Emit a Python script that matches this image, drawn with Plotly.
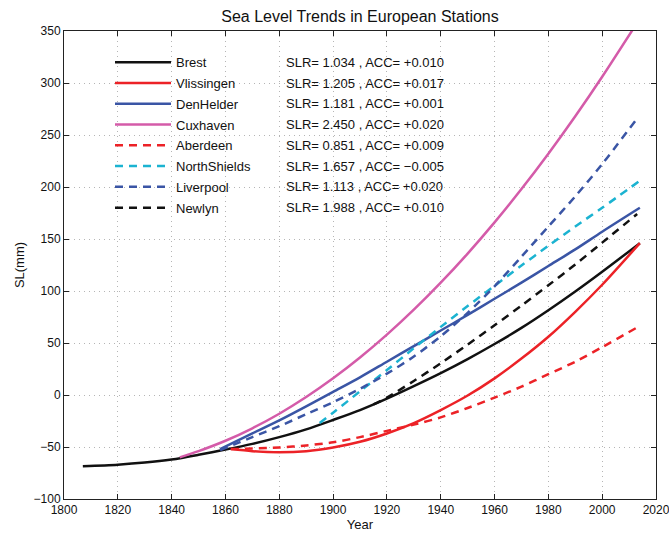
import plotly.graph_objects as go

# ---------------- data ----------------
stations = ["Brest", "Vlissingen", "DenHelder", "Cuxhaven",
            "Aberdeen", "NorthShields", "Liverpool", "Newlyn"]
slr_values = [1.034, 1.205, 1.181, 2.450, 0.851, 1.657, 1.113, 1.988]
acc_values = [0.010, 0.017, 0.001, 0.020, 0.009, -0.005, 0.020, 0.010]

brest_years = [1807, 1820, 1830, 1840, 1850, 1860, 1870, 1880, 1890, 1900, 1910,
               1920, 1930, 1940, 1950, 1960, 1970, 1980, 1990, 2000, 2014]
brest_sl = [-68.5, -67, -65, -62, -57.5, -52.5, -47, -40.5, -33, -24, -14.5,
            -3.5, 8.5, 21, 34.5, 49, 64.5, 81.5, 99.5, 118.5, 146]

vlissingen_years = [1862, 1870, 1880, 1890, 1900, 1910, 1920, 1930, 1940, 1950,
                    1960, 1970, 1980, 1990, 2000, 2014]
vlissingen_sl = [-52, -54, -55, -54, -50.5, -45, -37, -27, -14.5, -0.5,
                 16, 35, 56, 80, 106, 146]

denhelder_years = [1858, 1870, 1880, 1890, 1900, 1910, 1920, 1930, 1940, 1950,
                   1960, 1970, 1980, 1990, 2000, 2014]
denhelder_sl = [-52, -37, -24.5, -11, 3, 17, 32, 47, 62, 77,
                92.5, 108, 124, 140, 157, 180]

cuxhaven_years = [1843, 1850, 1860, 1870, 1880, 1890, 1900, 1910, 1920, 1930,
                  1940, 1950, 1960, 1970, 1980, 1990, 2000, 2014]
cuxhaven_sl = [-60, -54, -44, -32, -18, -2, 16, 36, 58, 82,
               108, 136, 166, 198, 232, 268, 306, 362]

aberdeen_years = [1862, 1870, 1880, 1890, 1900, 1910, 1920, 1930, 1940, 1950,
                  1960, 1970, 1980, 1990, 2000, 2013]
aberdeen_sl = [-52, -51.5, -50.5, -48.5, -45.5, -40.5, -34.5, -28.5, -21.5, -12.5,
               -2.5, 8, 20, 32, 46, 65]

northshields_years = [1895, 1900, 1910, 1920, 1930, 1940, 1950, 1960, 1970,
                      1980, 1990, 2000, 2014]
northshields_sl = [-27, -17, 3.5, 24, 45, 65.5, 85.5, 105, 124.5,
                   143.5, 162, 180, 206]

liverpool_years = [1858, 1870, 1880, 1890, 1900, 1910, 1920, 1930, 1940, 1950,
                   1960, 1970, 1980, 1990, 2000, 2013]
liverpool_sl = [-53, -40.5, -30, -18.5, -7, 6, 20.5, 37, 56.5, 79,
                104.5, 133, 162, 191, 222, 266]

newlyn_years = [1915, 1920, 1930, 1940, 1950, 1960, 1970, 1980, 1990, 2000, 2013]
newlyn_sl = [-9, -2.5, 13.5, 30.5, 48.5, 67, 86, 105.5, 125.5, 146.5, 174]

x_ticks = list(range(1800, 2021, 20))
y_ticks = list(range(-100, 351, 50))

# ---------------- styles ----------------
series = [
    (brest_years, brest_sl, "#111111", "solid"),
    (vlissingen_years, vlissingen_sl, "#ec2227", "solid"),
    (denhelder_years, denhelder_sl, "#3a55a5", "solid"),
    (cuxhaven_years, cuxhaven_sl, "#d45ba9", "solid"),
    (aberdeen_years, aberdeen_sl, "#ec2227", "8px,6px"),
    (northshields_years, northshields_sl, "#1bb3d1", "8px,6px"),
    (liverpool_years, liverpool_sl, "#3a55a5", "8px,6px"),
    (newlyn_years, newlyn_sl, "#111111", "8px,6px"),
]

FONT = "Liberation Sans, Arial, Helvetica, sans-serif"

fig = go.Figure()
for i, (name, (xs, ys, col, dash)) in enumerate(zip(stations, series)):
    fig.add_trace(go.Scatter(
        x=xs, y=ys, mode="lines", name=name, legendgroup=name,
        line=dict(color=col, width=2.5, dash=dash, shape="spline", smoothing=0.8),
    ))

# SLR / ACC texts aligned with legend rows
W, H = 669, 533
ML, MR, MT, MB = 64, 13, 31, 34
plot_h = H - MT - MB
plot_w = W - ML - MR
row0 = 62.3
row_step = 20.77
annotations = []
for i, (s, a) in enumerate(zip(slr_values, acc_values)):
    sign = "+" if a >= 0 else "\u2212"
    txt = f"SLR= {s:.3f} , ACC= {sign}{abs(a):.3f}"
    py = row0 + i * row_step
    annotations.append(dict(
        x=(284 - ML) / plot_w, y=(H - MB - py) / plot_h, xref="paper", yref="paper",
        xanchor="left", yanchor="middle", showarrow=False, text=txt,
        font=dict(family=FONT, size=13, color="#111111"),
    ))

axis_common = dict(
    showline=True, linecolor="#222222", linewidth=1, mirror="ticks",
    ticks="inside", ticklen=5, tickcolor="#222222", tickwidth=1,
    showgrid=True, gridcolor="#b5b5b5", gridwidth=1, griddash="1px,4px",
    zeroline=False, tickfont=dict(family=FONT, size=12, color="#111111"),
    automargin=False, ticklabeloverflow="allow",
)

fig.update_layout(
    width=W, height=H, autosize=False,
    margin=dict(l=ML, r=MR, t=MT, b=MB, pad=0),
    paper_bgcolor="white", plot_bgcolor="white",
    font=dict(family=FONT, size=12, color="#111111"),
    title=dict(text="Sea Level Trends in European Stations",
               x=(ML + plot_w / 2) / W, xanchor="center",
               y=1 - 16 / H, yanchor="middle",
               font=dict(family=FONT, size=16, color="#111111")),
    xaxis=dict(range=[1800, 2020], tickvals=x_ticks,
               title=dict(text="Year", font=dict(family=FONT, size=13), standoff=2),
               **axis_common),
    yaxis=dict(range=[-100, 350], tickvals=y_ticks,
               title=dict(text="SL(mm)", font=dict(family=FONT, size=13), standoff=6),
               **axis_common),
    legend=dict(x=(110 - ML) / plot_w, y=(H - MB - 47.3) / plot_h,
                xanchor="left", yanchor="top", bgcolor="rgba(0,0,0,0)",
                borderwidth=0, font=dict(family=FONT, size=13, color="#111111"),
                tracegroupgap=0.87, itemwidth=56),
    annotations=annotations,
    showlegend=True,
)

fig.write_html("out.html")
